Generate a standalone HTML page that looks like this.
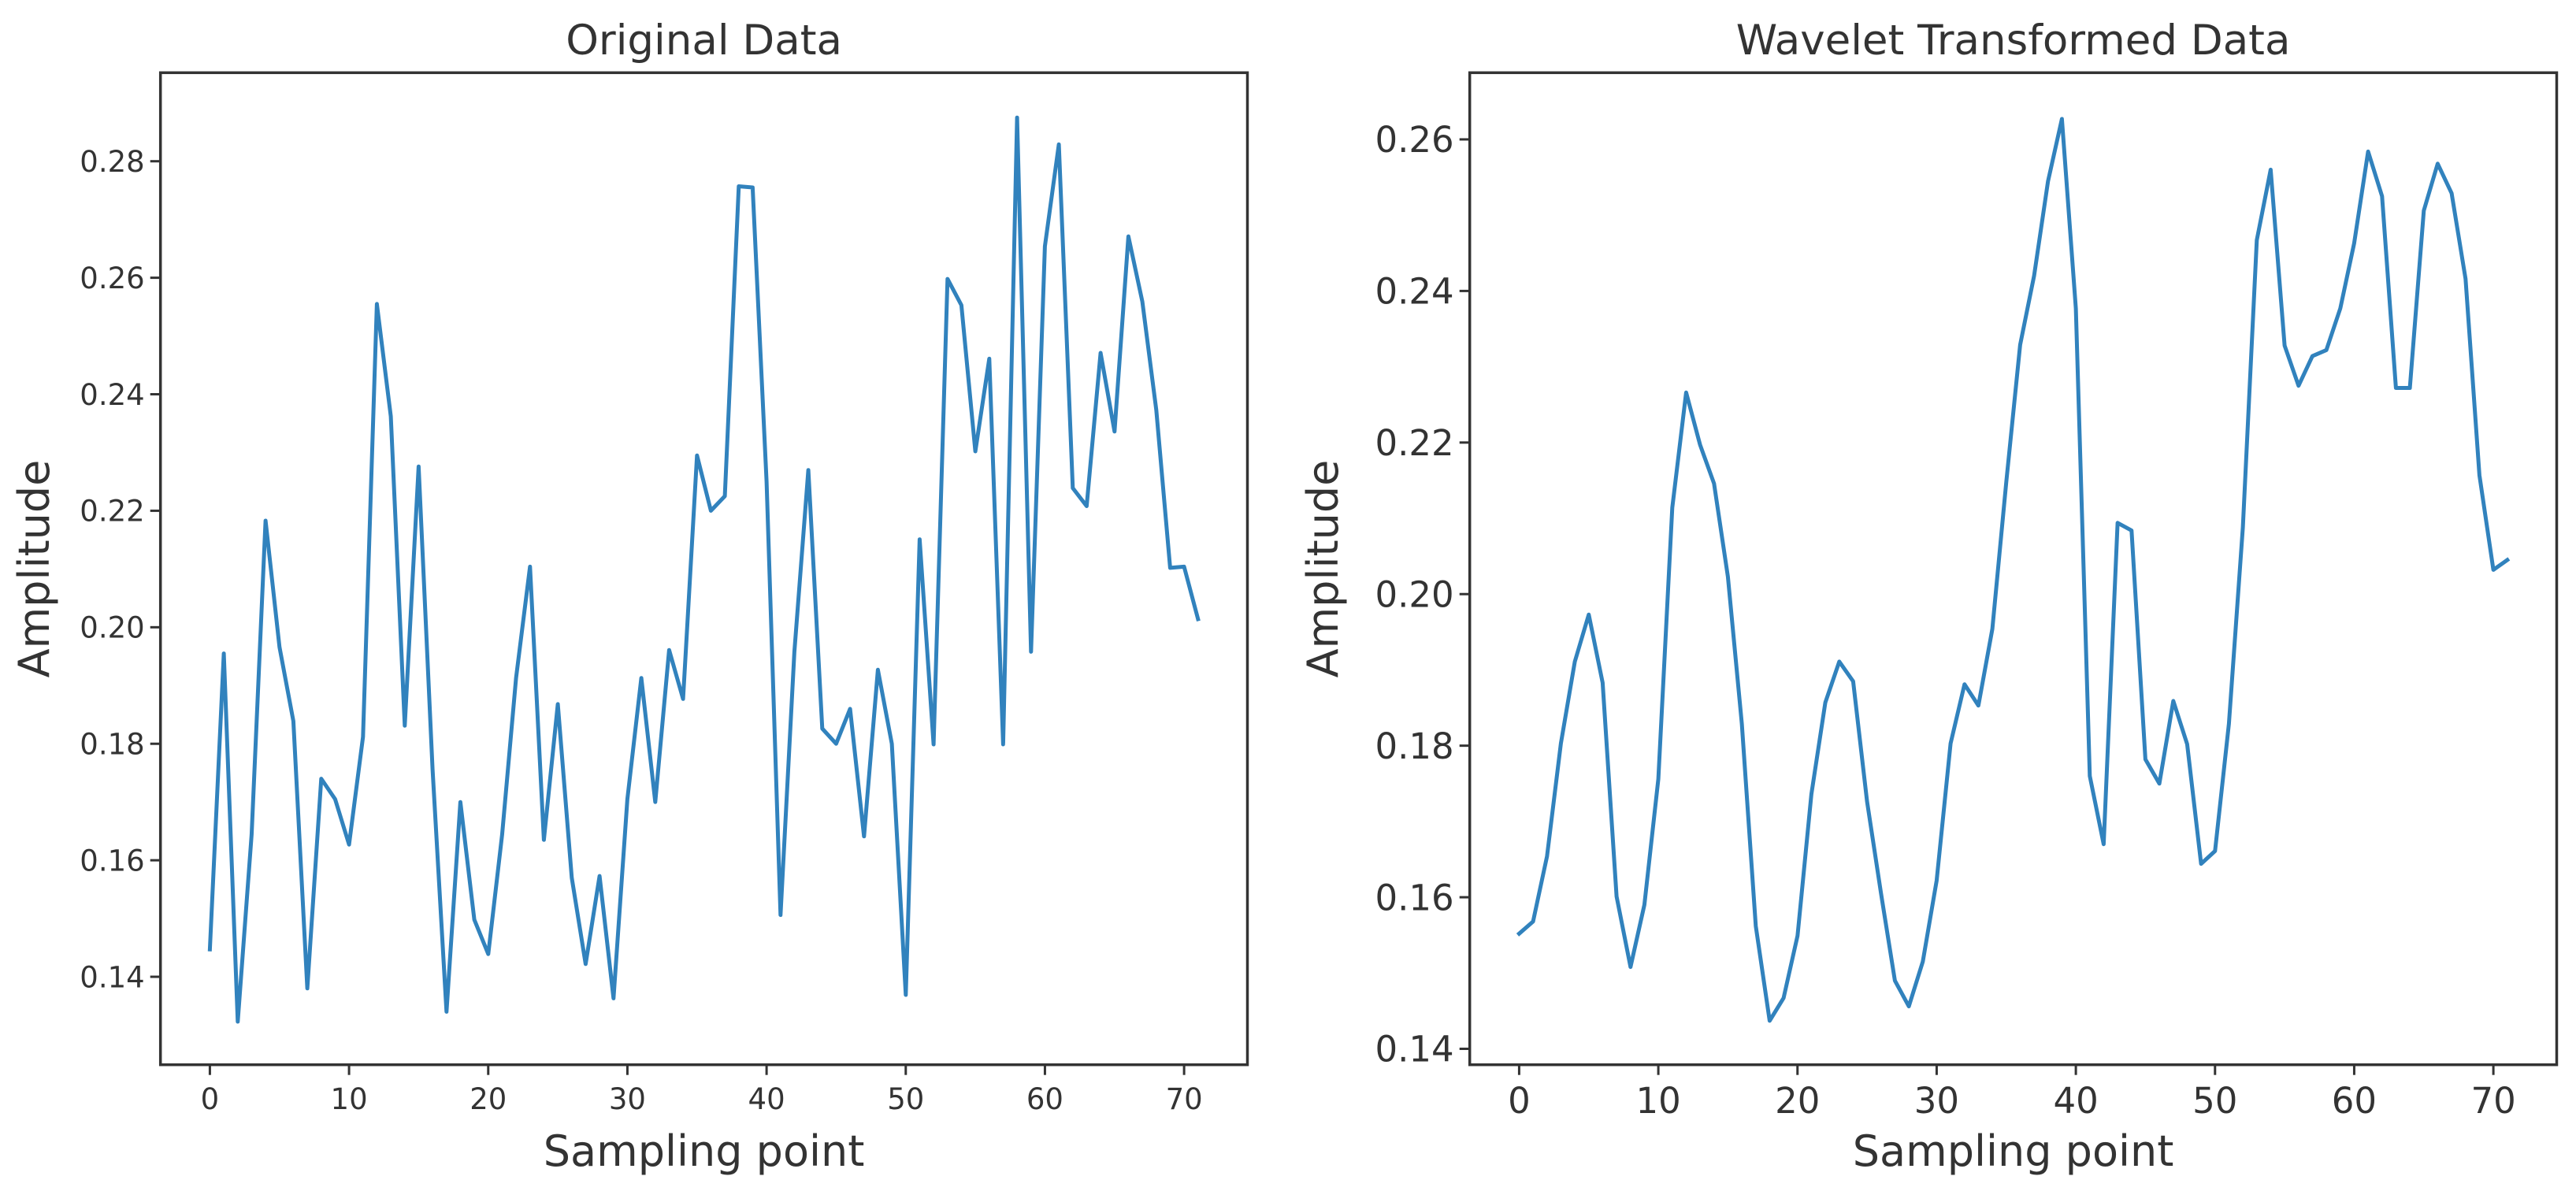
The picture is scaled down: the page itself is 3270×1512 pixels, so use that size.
<!DOCTYPE html>
<html><head><meta charset="utf-8"><style>
html,body{margin:0;padding:0;background:#fff;}
svg{display:block;font-family:"DejaVu Sans","Liberation Sans",sans-serif;}
</style></head><body>
<svg id="fig" width="3270" height="1512" viewBox="0 0 3270 1512" xmlns="http://www.w3.org/2000/svg"></svg>
<script>
const sampleIndex = Array.from({length:72},(_,i)=>i);
const originalValues = [0.1447,0.1955,0.1323,0.1644,0.2183,0.1966,0.1839,0.138,0.174,0.1705,0.1627,0.1812,0.2555,0.2362,0.1831,0.2276,0.1756,0.134,0.17,0.1498,0.1439,0.1644,0.1913,0.2104,0.1635,0.1868,0.157,0.1422,0.1573,0.1363,0.1705,0.1913,0.17,0.1961,0.1877,0.2295,0.22,0.2225,0.2757,0.2755,0.225,0.1506,0.1958,0.227,0.1826,0.18,0.186,0.1641,0.1927,0.18,0.1369,0.2151,0.1799,0.2598,0.2553,0.2302,0.2461,0.1799,0.2875,0.1958,0.2654,0.2829,0.2239,0.2208,0.2471,0.2336,0.2671,0.2559,0.2373,0.2102,0.2104,0.2014];
const waveletValues = [0.1552,0.1568,0.1654,0.1803,0.1911,0.1973,0.1883,0.1601,0.1508,0.159,0.1756,0.2114,0.2266,0.2197,0.2146,0.2023,0.1829,0.1562,0.1437,0.1467,0.1549,0.1736,0.1857,0.1911,0.1885,0.1726,0.1605,0.149,0.1456,0.1515,0.1622,0.1803,0.1881,0.1853,0.1954,0.2148,0.2329,0.242,0.2545,0.2627,0.2377,0.176,0.167,0.2094,0.2084,0.1782,0.175,0.1859,0.1802,0.1644,0.1661,0.1829,0.2088,0.2467,0.256,0.2328,0.2275,0.2314,0.2322,0.2377,0.2463,0.2584,0.2525,0.2272,0.2272,0.2506,0.2568,0.2529,0.2416,0.2157,0.2032,0.2045];
const xTicks = [0,10,20,30,40,50,60,70];
const leftYTicks = [0.14,0.16,0.18,0.20,0.22,0.24,0.26,0.28];
const rightYTicks = [0.14,0.16,0.18,0.20,0.22,0.24,0.26];

const NS="http://www.w3.org/2000/svg";
const svg=document.getElementById('fig');
function mk(tag,attrs,parent){const e=document.createElementNS(NS,tag);for(const k in attrs)e.setAttribute(k,attrs[k]);(parent||svg).appendChild(e);return e;}
const INK="#333333";

function panel(cfg){
  const g=mk('g',{});
  
  
  const L=cfg.left,R=cfg.right,T=92.3,B=1351.7;
  const x=v=>L+(v-cfg.xmin)/(cfg.xmax-cfg.xmin)*(R-L);
  const y=v=>B-(v-cfg.ymin)/(cfg.ymax-cfg.ymin)*(B-T);
  // line
  let d='';
  cfg.values.forEach((v,i)=>{d+=(i?'L':'M')+x(sampleIndex[i]).toFixed(1)+' '+y(v).toFixed(1);});
  const p=mk('path',{d:d,fill:'none',stroke:'#3182bd','stroke-width':5,'stroke-linejoin':'round','stroke-linecap':'square'},g);
  
  
  // frame
  const f=mk('rect',{x:L,y:T,width:R-L,height:B-T,fill:'none',stroke:INK,'stroke-width':3.5},g);
  
  
  // x ticks
  xTicks.forEach(t=>{
    const X=x(t);
    mk('line',{x1:X,x2:X,y1:B,y2:B+13,stroke:INK,'stroke-width':3},g);
    const tx=mk('text',{x:X,y:cfg.xTickBase,'text-anchor':'middle','font-size':cfg.tickFont,fill:INK},g);
    tx.textContent=t;
    
    
  });
  cfg.yTicks.forEach(t=>{
    const Y=y(t);
    mk('line',{x1:L-13,x2:L,y1:Y,y2:Y,stroke:INK,'stroke-width':3},g);
    const ty=mk('text',{x:L-20,y:Y+cfg.tickFont*0.36,'text-anchor':'end','font-size':cfg.tickFont,fill:INK},g);
    ty.textContent=t.toFixed(2);
    
    
  });
  const ti=mk('text',{x:(L+R)/2,y:69,'text-anchor':'middle','font-size':53,fill:INK},g);
  ti.textContent=cfg.title;
  
  
  const xl=mk('text',{x:(L+R)/2,y:1480,'text-anchor':'middle','font-size':54,fill:INK},g);
  xl.textContent='Sampling point';
  
  
  const yl=mk('text',{x:0,y:0,'text-anchor':'middle','font-size':54,fill:INK,transform:'translate('+cfg.ylabX+','+((T+B)/2)+') rotate(-90)'},g);
  yl.textContent='Amplitude';
  
  
}
panel({name:'original-data-chart',left:203.7,right:1583.5,xmin:-3.55,xmax:74.55,ymin:0.1249,ymax:0.2952,values:originalValues,yTicks:leftYTicks,tickFont:37,xTickBase:1408,title:'Original Data',ylabX:62});
panel({name:'wavelet-data-chart',left:1865.7,right:3245.5,xmin:-3.55,xmax:74.55,ymin:0.1379,ymax:0.2688,values:waveletValues,yTicks:rightYTicks,tickFont:45,xTickBase:1413,title:'Wavelet Transformed Data',ylabX:1698});
</script>
</body></html>
